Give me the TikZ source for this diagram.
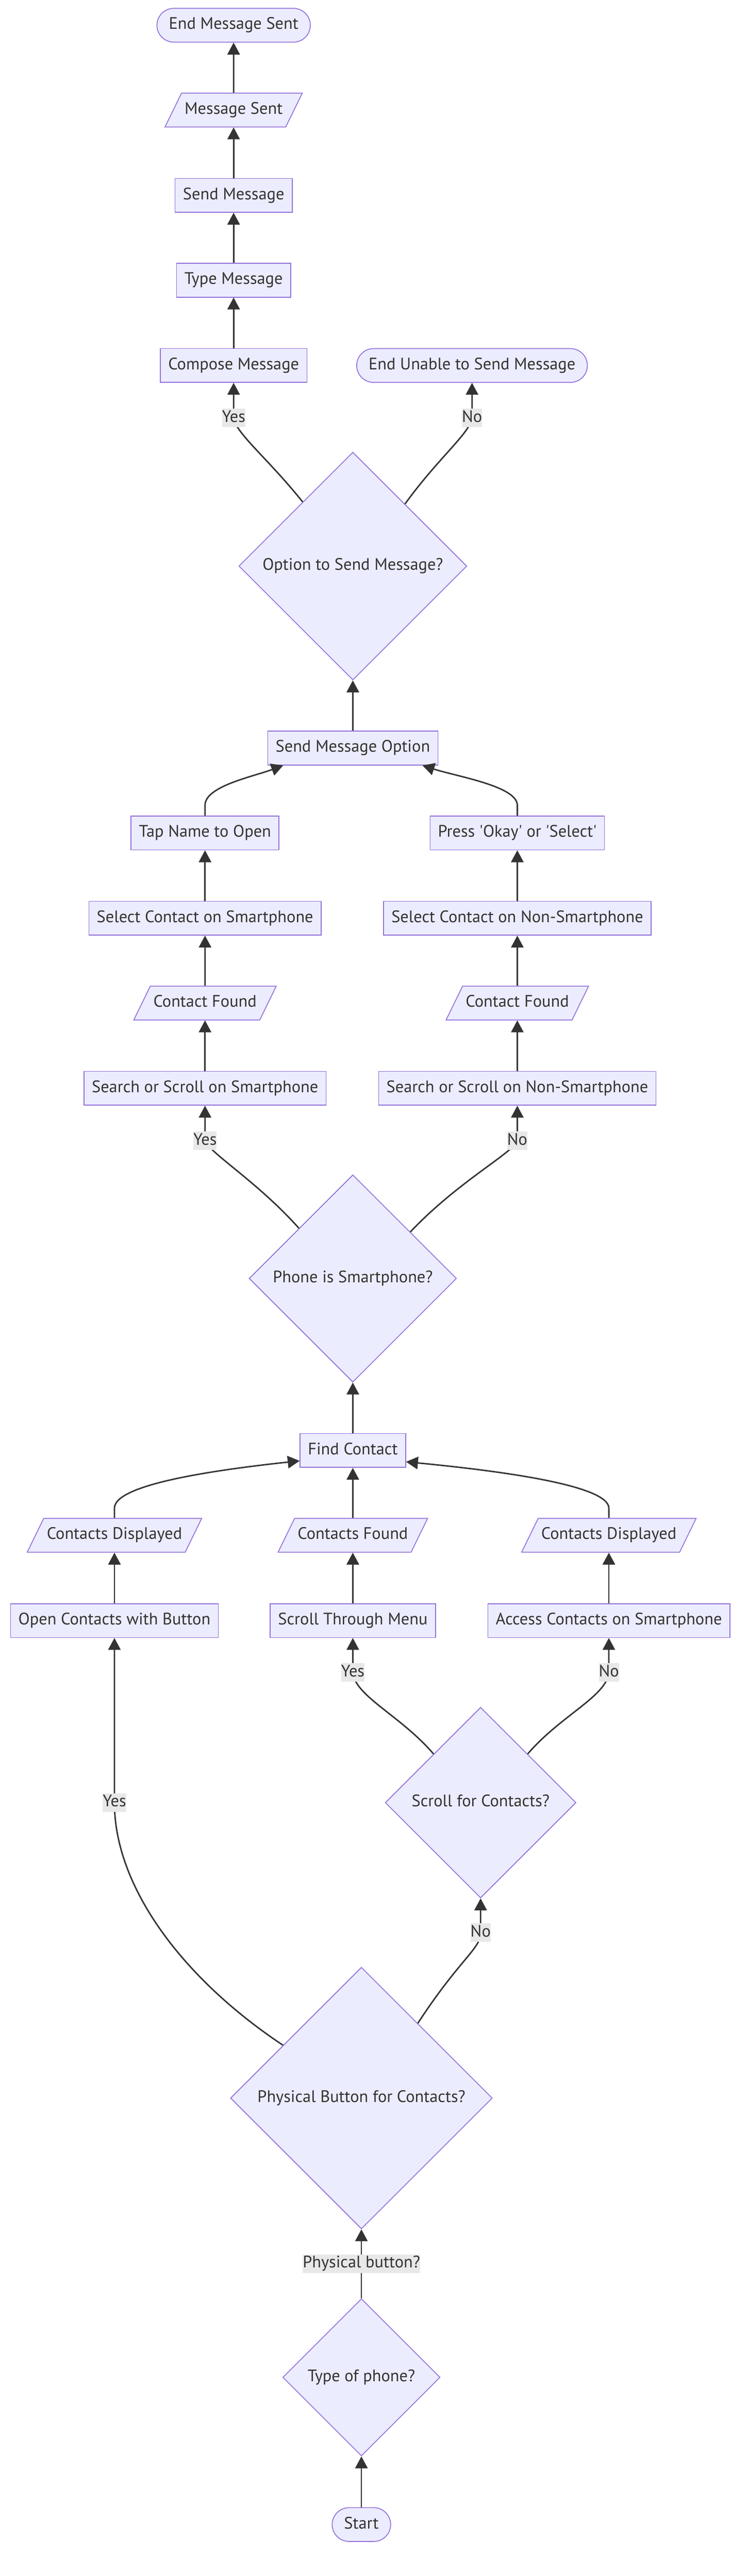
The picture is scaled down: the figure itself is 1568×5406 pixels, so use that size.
\documentclass[tikz,border=0pt]{standalone}
\usepackage{fontspec}
\setmainfont{PT Sans}
\usetikzlibrary{arrows.meta, shapes.geometric}
\definecolor{lightA}{RGB}{236, 236, 255}
\definecolor{darkA} {RGB}{147, 112, 219}
\definecolor{lineA} {RGB}{51,  51,  51}
\definecolor{labelA}{RGB}{232, 232, 232}

\tikzset{
  basebox/.style={draw=darkA, fill=lightA, line width=1.8pt, text=lineA,
    font=\fontsize{35}{42}\selectfont, text height=26pt, text depth=9pt, inner ysep=18pt},
  procbox/.style={basebox, rectangle, inner xsep=16.5pt},
  termbox/.style={basebox, rectangle, rounded corners=35.5pt, inner xsep=25pt},
  iobox/.style={basebox, trapezium, trapezium left angle=64, trapezium right angle=116, inner xsep=6.5pt},
  decbox/.style={basebox, diamond, inner sep=0pt, minimum size=#1},
  elabel/.style={fill=labelA, text=lineA, font=\fontsize{35}{42}\selectfont,
    inner xsep=0pt, inner ysep=2pt, text height=26pt, text depth=9pt},
  flow/.style={draw=lineA, line width=3pt, -{Triangle[length=25pt, width=26pt]}}
}

\begin{document}
\begin{tikzpicture}[x=1pt, y=-1pt]
  \useasboundingbox (0,0) rectangle (1568,5406);

  \node[termbox]     (start)       at (758,5298)  {Start};
  \node[decbox=330pt] (phonetype)  at (758,4989)  {Type of phone?};
  \node[decbox=549pt] (physbtn)    at (758,4403)  {Physical Button for Contacts?};
  \node[procbox]     (openbtn)     at (240,3401)  {Open Contacts with Button};
  \node[decbox=400pt] (scrolldec)  at (1008,3783) {Scroll for Contacts?};
  \node[procbox]     (scrollmenu)  at (740,3401)  {Scroll Through Menu};
  \node[procbox]     (accesssmart) at (1277,3401) {Access Contacts on Smartphone};
  \node[iobox]       (displayL)    at (240,3222)  {Contacts Displayed};
  \node[iobox]       (foundC)      at (740,3222)  {Contacts Found};
  \node[iobox]       (displayR)    at (1277,3222) {Contacts Displayed};
  \node[procbox]     (findc)       at (740,3044)  {Find Contact};
  \node[decbox=435pt] (issmart)    at (740,2683)  {Phone is Smartphone?};
  \node[procbox]     (searchS)     at (430,2284)  {Search or Scroll on Smartphone};
  \node[procbox]     (searchN)     at (1085,2284) {Search or Scroll on Non-Smartphone};
  \node[iobox]       (foundS)      at (430,2105)  {Contact Found};
  \node[iobox]       (foundN)      at (1085,2105) {Contact Found};
  \node[procbox]     (selectS)     at (430,1927)  {Select Contact on Smartphone};
  \node[procbox]     (selectN)     at (1085,1927) {Select Contact on Non-Smartphone};
  \node[procbox]     (tapname)     at (430,1748)  {Tap Name to Open};
  \node[procbox]     (pressok)     at (1085,1748) {Press \textquotesingle Okay\textquotesingle{} or \textquotesingle Select\textquotesingle};
  \node[procbox]     (sendopt)     at (740,1570)  {Send Message Option};
  \node[decbox=478pt] (optdec)     at (740,1188)  {Option to Send Message?};
  \node[procbox]     (compose)     at (490,767)   {Compose Message};
  \node[termbox]     (endfail)     at (990,767)   {End Unable to Send Message};
  \node[procbox]     (typemsg)     at (490,588)   {Type Message};
  \node[procbox]     (sendmsg)     at (490,410)   {Send Message};
  \node[iobox]       (msgsent)     at (490,231)   {Message Sent};
  \node[termbox]     (endsent)     at (490,53)    {End Message Sent};

  \draw[flow] (start) -- (phonetype);
  \draw[flow] (phonetype) -- node[elabel] {Physical button?} (physbtn);
  \draw[flow] (physbtn.146) .. controls (383,4152) and (240,3960) .. (240,3783)
    node[elabel] {Yes} -- (openbtn.south);
  \draw[flow] (physbtn.53) .. controls (965,4110) and (1008,4090) .. (1008,4056)
    node[elabel] {No} -- (scrolldec.south);
  \draw[flow] (scrolldec.134) .. controls (840,3600) and (745,3560) .. (740,3510)
    node[elabel] {Yes} -- (scrollmenu.south);
  \draw[flow] (scrolldec.46) .. controls (1176,3600) and (1272,3560) .. (1277,3510)
    node[elabel] {No} -- (accesssmart.south);
  \draw[flow] (openbtn) -- (displayL);
  \draw[flow] (scrollmenu) -- (foundC);
  \draw[flow] (accesssmart) -- (displayR);
  \draw[flow] (displayL.north) -- (240,3165) .. controls (240,3115) and (450,3085) .. (findc.191.5);
  \draw[flow] (foundC) -- (findc);
  \draw[flow] (displayR.north) -- (1277,3165) .. controls (1277,3115) and (1030,3085) .. (findc.348.5);
  \draw[flow] (findc) -- (issmart);
  \draw[flow] (issmart.137) .. controls (540,2480) and (440,2420) .. (430,2394)
    node[elabel] {Yes} -- (searchS.south);
  \draw[flow] (issmart.39.5) .. controls (960,2480) and (1075,2420) .. (1085,2394)
    node[elabel] {No} -- (searchN.south);
  \draw[flow] (searchS) -- (foundS);
  \draw[flow] (foundS) -- (selectS);
  \draw[flow] (selectS) -- (tapname);
  \draw[flow] (searchN) -- (foundN);
  \draw[flow] (foundN) -- (selectN);
  \draw[flow] (selectN) -- (pressok);
  \draw[flow] (tapname.north) -- (430,1690) .. controls (430,1650) and (530,1630) .. (sendopt.194.4);
  \draw[flow] (pressok.north) -- (1085,1690) .. controls (1085,1650) and (960,1630) .. (sendopt.346);
  \draw[flow] (sendopt) -- (optdec);
  \draw[flow] (optdec.128.6) .. controls (560,960) and (495,910) .. (490,877)
    node[elabel] {Yes} -- (compose.south);
  \draw[flow] (optdec.50.7) .. controls (920,960) and (985,910) .. (990,877)
    node[elabel] {No} -- (endfail.south);
  \draw[flow] (compose) -- (typemsg);
  \draw[flow] (typemsg) -- (sendmsg);
  \draw[flow] (sendmsg) -- (msgsent);
  \draw[flow] (msgsent) -- (endsent);
\end{tikzpicture}
\end{document}
